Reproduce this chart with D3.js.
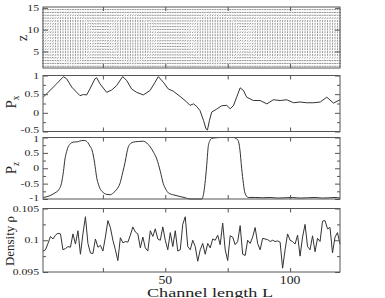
<!DOCTYPE html>
<html>
<head>
<meta charset="utf-8">
<script src="https://cdn.jsdelivr.net/npm/d3@7"></script>
<style>
  html, body { margin: 0; padding: 0; background: #fff; }
  svg { display: block; }
  text { font-family: "Liberation Serif", "DejaVu Serif", serif; fill: #222; }
</style>
</head>
<body>
<div id="chart"></div>
<script>
// ── data ──
const xDomain = [1, 120];
const xTicks = [25, 50, 75, 100];
const xTickLabels = [50, 100];

// Px profile (x, value)
const pxX = [1.1, 3.8, 6.5, 9.2, 10.5, 12.5, 14.5, 15.8, 17.2, 18.5, 19.8, 21.8, 22.5, 23.8, 26.5, 28.5, 30.5, 32.9,
  34.5, 36.5, 38.5, 41.2, 43.9, 45.9, 47.2, 49.2, 51.2, 53.2, 55.9, 58.6, 59.9, 61.3, 62.6, 63.9, 65.3, 66.3, 66.9,
  67.7, 68.6, 70.6, 72.6, 74.6, 76.0, 77.3, 78.6, 80.0, 81.3, 82.6, 85.3, 88.0, 90.7, 93.3, 96.0, 98.7, 101.4,
  104.0, 106.7, 109.4, 112.1, 114.7, 117.4, 120.0];
const pxVal = [0.42, 0.6, 0.78, 0.97, 0.91, 0.69, 0.55, 0.46, 0.49, 0.48, 0.64, 0.91, 0.94, 0.78, 0.55, 0.61, 0.73, 0.97,
  0.87, 0.64, 0.55, 0.48, 0.6, 0.82, 0.97, 0.82, 0.64, 0.58, 0.44, 0.29, 0.2, 0.24, 0.17, 0.06, -0.2, -0.43, -0.46,
  -0.2, 0.02, 0.1, 0.19, 0.2, 0.11, 0.19, 0.42, 0.67, 0.6, 0.42, 0.33, 0.33, 0.24, 0.35, 0.33, 0.35, 0.27,
  0.29, 0.27, 0.27, 0.29, 0.42, 0.26, 0.35];
const pxTicks = [-0.5, 0, 0.5, 1];
const pxMinor = [-0.25, 0.25, 0.75];

// Pz profile (x, value)
const pzX = [1.1, 3.5, 5.8, 7.3, 8.5, 9.2, 9.8, 10.5, 11.1, 12.0, 13.1, 14.8, 16.5, 17.8, 18.9, 19.8, 20.6, 21.2, 21.9,
  22.5, 23.2, 23.8, 25.0, 26.5, 28.0, 29.2, 30.6, 31.8, 32.9, 33.9, 34.6, 35.2, 36.1, 37.2, 39.2, 41.2, 42.6, 43.9,
  45.3, 46.6, 48.0, 49.2, 50.2, 51.2, 53.5, 55.9, 58.0, 59.9, 62.3, 64.6, 65.3, 65.9, 66.6, 67.2, 67.9, 68.6,
  70.2, 71.9, 74.5, 77.2, 78.3, 79.2, 79.9, 80.6, 81.3, 81.9, 83.2, 86.0, 89.0, 92.0, 95.0, 98.0, 101.0, 104.0,
  107.0, 110.0, 113.0, 116.0, 118.0, 120.0];
const pzVal = [-0.95, -0.9, -0.8, -0.7, -0.45, -0.1, 0.3, 0.55, 0.7, 0.8, 0.85, 0.86, 0.9, 0.9, 0.84, 0.72, 0.6, 0.4, 0.05,
  -0.3, -0.52, -0.65, -0.78, -0.85, -0.86, -0.8, -0.68, -0.5, -0.15, 0.2, 0.5, 0.7, 0.8, 0.85, 0.87, 0.88, 0.82, 0.7,
  0.52, 0.3, -0.1, -0.5, -0.68, -0.8, -0.87, -0.92, -0.96, -1, -1, -1, -0.85, -0.5, 0.1, 0.7, 0.9, 0.97,
  0.99, 1, 1, 1, 0.97, 0.9, 0.6, 0, -0.5, -0.8, -0.95, -0.95, -0.96, -0.95, -0.97, -0.96, -0.95, -0.97,
  -0.96, -0.95, -0.97, -0.96, -0.95, -0.97];
const pzTicks = [-1, -0.5, 0, 0.5, 1];
const pzMinor = [-0.75, -0.25, 0.25, 0.75];

// density, one value per lattice column x = 1..120
const density = [0.0983, 0.0985, 0.0995, 0.1006, 0.1002, 0.1008, 0.1011, 0.1010, 0.0985, 0.0987,
  0.0990, 0.0989, 0.1010, 0.0994, 0.1015, 0.0978, 0.1010, 0.1037, 0.0995, 0.0980,
  0.0979, 0.1002, 0.0989, 0.0992, 0.0983, 0.1005, 0.1031, 0.1020, 0.1000, 0.0985,
  0.0968, 0.1004, 0.0996, 0.0998, 0.0997, 0.1008, 0.1021, 0.1013, 0.1010, 0.0988,
  0.1005, 0.0988, 0.0983, 0.1015, 0.1006, 0.1018, 0.1002, 0.1000, 0.1021, 0.1000,
  0.0985, 0.1012, 0.0990, 0.1015, 0.0983, 0.0985, 0.1025, 0.1037, 0.0990, 0.0985,
  0.1000, 0.0990, 0.0967, 0.0985, 0.0995, 0.0978, 0.0995, 0.0988, 0.1002, 0.1000,
  0.1008, 0.0993, 0.1027, 0.0985, 0.0968, 0.1007, 0.1005, 0.0993, 0.0998, 0.1023,
  0.0978, 0.0976, 0.1000, 0.0995, 0.1005, 0.1020, 0.0995, 0.0985, 0.1003, 0.1002,
  0.1001, 0.0998, 0.1000, 0.0998, 0.0999, 0.0997, 0.0956, 0.0985, 0.1010, 0.1000,
  0.0998, 0.0994, 0.1008, 0.0975, 0.1005, 0.1025, 0.0990, 0.0985, 0.1007, 0.0982,
  0.1003, 0.0998, 0.1030, 0.1031, 0.1018, 0.1020, 0.0980, 0.1005, 0.1012, 0.0994];
const rhoTicks = [0.095, 0.1, 0.105];
const rhoTickLabels = ['0.095', '0.1', '0.105'];
const rhoMinor = [0.0975, 0.1025];

// director field: tilt from horizontal (deg) and half-width (z units) of the tilted core, per column
const tiltDeg = [35, 40, 45, 55, 65, 75,
  85, 88, 90, 90, 90, 90, 90, 90, 90, 88, 85, 80, 70, 55,
  35, 25, 20, 18, 18, 20, 25, 35, 50, 65,
  78, 85, 88, 90, 90, 90, 90, 90, 90, 90, 88, 85, 80, 70, 55, 40,
  30, 22, 18, 15, 15, 15, 15, 15, 18, 20, 22, 25, 30, 35, 45, 55, 68,
  78, 85, 88, 90, 90, 90, 90, 90, 90, 90, 90, 90, 88, 85, 78, 65, 50,
  40, 35, 40, 50, 60, 70,
  75, 78, 80, 80, 82, 82, 80, 80, 82, 82, 80, 80, 82, 82, 80, 80, 82, 82, 80, 80, 82, 82,
  80, 80, 82, 82, 80, 80, 82, 82, 80, 80, 82, 80];
const coreHalf = [3, 3, 3.2, 3.5, 3.8, 4.2,
  4.6, 5, 5.2, 5.4, 5.5, 5.5, 5.5, 5.4, 5.2, 5, 4.6, 4.2, 3.6, 3,
  2.4, 2, 1.8, 1.6, 1.6, 1.8, 2, 2.4, 3, 3.6,
  4.2, 4.6, 5, 5.2, 5.4, 5.5, 5.5, 5.4, 5.2, 5, 4.6, 4.2, 3.8, 3.2, 2.6, 2.2,
  1.8, 1.6, 1.5, 1.5, 1.5, 1.5, 1.5, 1.6, 1.8, 2, 2.2, 2.4, 2.6, 3, 3.4, 3.8, 4.2,
  4.6, 5, 5.2, 5.4, 5.5, 5.5, 5.5, 5.5, 5.4, 5.2, 5, 4.8, 4.6, 4.2, 3.8, 3.4, 3,
  2.6, 2.4, 2.6, 3, 3.5, 4,
  4.5, 4.5, 4.5, 4.5, 4.5, 4.5, 4.5, 4.5, 4.5, 4.5, 4.5, 4.5, 4.5, 4.5, 4.5, 4.5, 4.5,
  4.5, 4.5, 4.5, 4.5, 4.5, 4.5, 4.5, 4.5, 4.5, 4.5, 4.5, 4.5, 4.5, 4.5, 4.5, 4.5, 4.5];
const zRows = [1.6, 2.25, 2.9, 3.55, 4.2, 4.85, 5.5, 6.15, 6.8, 7.45, 8.1, 8.75, 9.4, 10.05, 10.7, 11.35, 12.0,
  12.65, 13.3, 13.95, 14.6];
const zTicks = [5, 10, 15];
const zCenter = 8;

// ── layout ──
const W = 385, H = 298;
const left = 43, right = 340;
const panels = {
  field: [7, 68],
  px: [75.5, 131.5],
  pz: [137.5, 199],
  rho: [208.5, 272]
};

const svg = d3.select('#chart').append('svg').attr('width', W).attr('height', H);
const x = d3.scaleLinear().domain(xDomain).range([left, right]);

function yScale(key, domain) {
  return d3.scaleLinear().domain(domain).range([panels[key][1], panels[key][0]]);
}
const yField = yScale('field', [1.2, 15.2]);
const yPx = yScale('px', [-0.5, 1]);
const yPz = yScale('pz', [-1, 1]);
const yRho = yScale('rho', [0.095, 0.105]);

// stretched serif labels, like the exported figure
function label(g, tx, ty, str, size, sx, anchor) {
  return g.append('text')
    .attr('transform', 'translate(' + tx + ',' + ty + ') scale(' + sx + ',1)')
    .attr('text-anchor', anchor || 'end')
    .attr('font-size', size + 'px')
    .text(str);
}

function frame(key, y, major, minor, tickText, nudge) {
  const g = svg.append('g');
  const [top, bot] = panels[key];
  // x ticks inward, top and bottom
  g.append('g').attr('transform', 'translate(0,' + bot + ')')
    .call(d3.axisBottom(x).tickValues(xTicks).tickSize(-4).tickFormat(''));
  g.append('g').attr('transform', 'translate(0,' + top + ')')
    .call(d3.axisTop(x).tickValues(xTicks).tickSize(-4).tickFormat(''));
  // y ticks inward, left and right
  g.append('g').attr('transform', 'translate(' + left + ',0)')
    .call(d3.axisLeft(y).tickValues(major).tickSize(-5).tickFormat(''));
  g.append('g').attr('transform', 'translate(' + right + ',0)')
    .call(d3.axisRight(y).tickValues(major).tickSize(-5).tickFormat(''));
  if (minor) {
    g.append('g').attr('transform', 'translate(' + left + ',0)')
      .call(d3.axisLeft(y).tickValues(minor).tickSize(-3).tickFormat(''));
    g.append('g').attr('transform', 'translate(' + right + ',0)')
      .call(d3.axisRight(y).tickValues(minor).tickSize(-3).tickFormat(''));
  }
  g.selectAll('.domain').remove();
  g.selectAll('.tick line').attr('stroke', '#555').attr('stroke-width', 1);
  g.append('rect')
    .attr('x', left).attr('y', top).attr('width', right - left).attr('height', bot - top)
    .attr('fill', 'none').attr('stroke', '#555').attr('stroke-width', 1);
  major.forEach(function(v, i) {
    const dy = nudge && nudge[i] ? nudge[i] : 0;
    label(svg, 39, y(v) + 3.2 + dy, tickText ? tickText[i] : String(v), 9, 1.3);
  });
}

// ── director field ──
const fieldG = svg.append('g').attr('stroke', '#707070').attr('stroke-width', 0.75).attr('stroke-linecap', 'butt');
const segs = [];
tiltDeg.forEach(function(tilt, i) {
  const col = i + 1;
  const w = coreHalf[i];
  const dw = (coreHalf[Math.min(i + 1, coreHalf.length - 1)] - coreHalf[Math.max(i - 1, 0)]) / 2;
  zRows.forEach(function(z) {
    const d = Math.abs(z - zCenter);
    const t = Math.max(0, Math.min(1, (w - d) / 1.2 + 0.5));
    const wall = Math.max(0, 1 - Math.pow(d / 7, 3));
    const bend = Math.sign(z - zCenter) * Math.atan(dw * 1.76) * Math.exp(-Math.max(d - w, 0) / 2.5) * wall;
    const a = t * tilt * Math.PI / 180 + (1 - t) * bend;
    segs.push({ col: col, z: z, a: a });
  });
});
const half = 1.0;
fieldG.selectAll('line').data(segs).join('line')
  .attr('x1', function(d) { return x(d.col) - half * Math.cos(d.a); })
  .attr('x2', function(d) { return x(d.col) + half * Math.cos(d.a); })
  .attr('y1', function(d) { return yField(d.z) + half * Math.sin(d.a); })
  .attr('y2', function(d) { return yField(d.z) - half * Math.sin(d.a); });

frame('field', yField, zTicks, null, null);

// ── Px ──
const lineStyle = function(sel) {
  sel.attr('fill', 'none').attr('stroke', '#333').attr('stroke-width', 1).attr('stroke-linejoin', 'round');
};
svg.append('path').datum(pxX.map(function(v, i) { return [v, pxVal[i]]; }))
  .call(lineStyle)
  .attr('d', d3.line().x(function(d) { return x(d[0]); }).y(function(d) { return yPx(d[1]); }));
frame('px', yPx, pxTicks, pxMinor, null, [-1.5, 0, 0, 0]);

// ── Pz ──
svg.append('path').datum(pzX.map(function(v, i) { return [v, pzVal[i]]; }))
  .call(lineStyle)
  .attr('d', d3.line().curve(d3.curveMonotoneX).x(function(d) { return x(d[0]); }).y(function(d) { return yPz(d[1]); }));
frame('pz', yPz, pzTicks, pzMinor, null, [-1, 0, 0, 0, 0.8]);

// ── density ──
svg.append('path').datum(density)
  .call(lineStyle)
  .attr('d', d3.line().x(function(d, i) { return x(i + 1); }).y(function(d) { return yRho(d); }));
frame('rho', yRho, rhoTicks, rhoMinor, rhoTickLabels);

// ── x tick labels and title ──
xTickLabels.forEach(function(v) {
  label(svg, x(v), 284, String(v), 12.5, 1.1, 'middle');
});
svg.append('text')
  .attr('x', 147).attr('y', 296.5)
  .attr('font-size', '12px')
  .attr('textLength', 126).attr('lengthAdjust', 'spacingAndGlyphs')
  .text('Channel length L');

// ── y titles (rotated) ──
function yTitle(cx, cy, main, sub, size) {
  const t = svg.append('text')
    .attr('transform', 'translate(' + cx + ',' + cy + ') rotate(-90)')
    .attr('text-anchor', 'middle')
    .attr('font-size', size + 'px');
  t.append('tspan').text(main);
  if (sub) t.append('tspan').attr('font-size', (size * 0.62) + 'px').attr('dy', 3).text(sub);
}
yTitle(27, 38, 'z', null, 14);
yTitle(16, 102, 'P', 'x', 15);
yTitle(16, 168, 'P', 'z', 15);
yTitle(14, 241, 'Density ρ', null, 13);
</script>
</body>
</html>
